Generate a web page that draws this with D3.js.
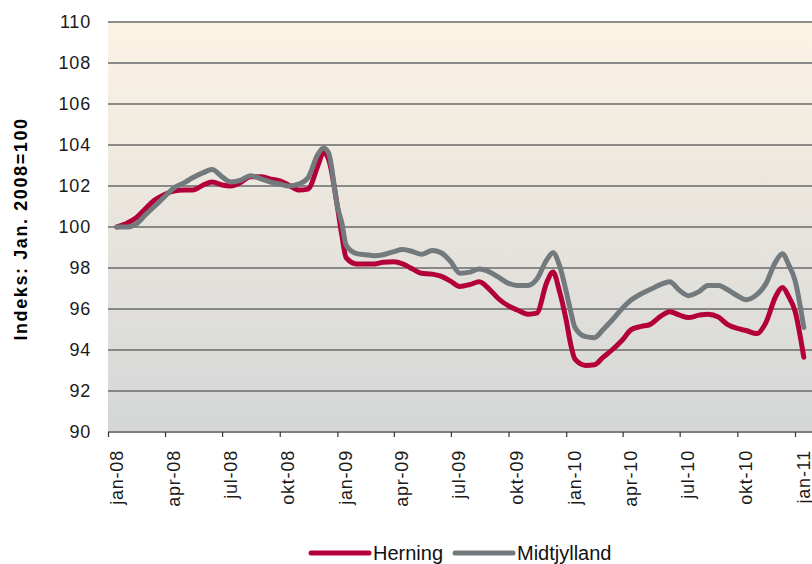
<!DOCTYPE html>
<html>
<head>
<meta charset="utf-8">
<script src="https://cdn.jsdelivr.net/npm/d3@7"></script>
<style>
    body { margin: 0; background: #ffffff; }
    svg { display: block; font-family: "Liberation Sans", Arial, sans-serif; }
</style>
</head>
<body>
<div id="chart"></div>
<script>
// Data (index, jan. 2008 = 100)
let dates = [
    "2008-01-15","2008-02-01","2008-02-15","2008-03-01","2008-03-15","2008-04-01","2008-04-15",
    "2008-05-01","2008-05-15","2008-06-01","2008-06-15","2008-07-01","2008-07-15","2008-08-01",
    "2008-08-15","2008-09-01","2008-09-15","2008-10-01","2008-10-15","2008-11-01","2008-11-15",
    "2008-12-01","2008-12-10","2008-12-18","2009-01-01","2009-01-08","2009-01-15","2009-02-01",
    "2009-02-15","2009-03-01","2009-03-15","2009-04-01","2009-04-15","2009-05-01","2009-05-15",
    "2009-06-01","2009-06-15","2009-07-01","2009-07-15","2009-08-01","2009-08-15","2009-09-01",
    "2009-09-15","2009-10-01","2009-10-15","2009-11-01","2009-11-15","2009-12-01","2009-12-11",
    "2009-12-21","2010-01-01","2010-01-08","2010-01-15","2010-02-01","2010-02-15","2010-03-01",
    "2010-03-15","2010-04-01","2010-04-15","2010-05-01","2010-05-15","2010-06-01","2010-06-15",
    "2010-07-01","2010-07-15","2010-08-01","2010-08-15","2010-09-01","2010-09-15","2010-10-01",
    "2010-10-15","2010-11-01","2010-11-15","2010-12-01","2010-12-12","2010-12-22","2011-01-01",
    "2011-01-15"
];
let herning = [
    100.0, 100.2, 100.45, 100.9, 101.3, 101.6, 101.75,
    101.8, 101.8, 102.05, 102.2, 102.05, 102.0, 102.2,
    102.45, 102.45, 102.35, 102.25, 102.05, 101.8, 101.85,
    103.0, 103.65, 103.3, 101.0, 99.6, 98.5, 98.2,
    98.2, 98.2, 98.28, 98.3, 98.2, 97.95, 97.74,
    97.7, 97.6, 97.35, 97.1, 97.2, 97.33, 96.95,
    96.5, 96.15, 95.95, 95.75, 95.8, 97.3, 97.8,
    96.9, 95.45, 94.3, 93.55, 93.25, 93.28, 93.65,
    94.0, 94.5, 95.0, 95.15, 95.25, 95.65, 95.87,
    95.7, 95.58, 95.7, 95.75, 95.6, 95.25, 95.05,
    94.95, 94.8, 95.3, 96.6, 97.05, 96.6, 95.9,
    93.65
];
let midtjylland = [
    100.0, 100.0, 100.15, 100.6, 101.0, 101.5, 101.9,
    102.15, 102.4, 102.65, 102.8, 102.45, 102.2, 102.3,
    102.5, 102.35, 102.2, 102.1, 102.0, 102.1, 102.4,
    103.55, 103.85, 103.6, 101.0, 100.2, 99.1, 98.7,
    98.65, 98.6, 98.65, 98.8, 98.9, 98.8, 98.67,
    98.85, 98.75, 98.3, 97.75, 97.8, 97.95, 97.8,
    97.55, 97.25, 97.15, 97.15, 97.45, 98.4, 98.75,
    98.15, 96.85, 95.9, 95.1, 94.65, 94.6, 95.0,
    95.45, 96.05, 96.45, 96.75, 96.95, 97.2, 97.33,
    96.9, 96.65, 96.85, 97.15, 97.15, 96.95, 96.65,
    96.45, 96.7, 97.2, 98.3, 98.7, 98.15, 97.4,
    95.1
];
let tickDates = ["2008-01-01","2008-04-01","2008-07-01","2008-10-01","2009-01-01","2009-04-01","2009-07-01",
    "2009-10-01","2010-01-01","2010-04-01","2010-07-01","2010-10-01","2011-01-01"];
let tickLabels = ["jan-08","apr-08","jul-08","okt-08","jan-09","apr-09","jul-09",
    "okt-09","jan-10","apr-10","jul-10","okt-10","jan-11"];
let yTicks = [90, 92, 94, 96, 98, 100, 102, 104, 106, 108, 110];
let seriesNames = ["Herning", "Midtjylland"];
let seriesColors = ["#b4003a", "#737a7e"];

let width = 812, height = 564;
let plot = {left: 108, right: 812, top: 22, bottom: 432};

let parse = d3.timeParse("%Y-%m-%d");

let svg = d3.select("#chart").append("svg")
    .attr("width", width)
    .attr("height", height);

let xScale = d3.scaleTime()
    .domain([parse("2008-01-01"), parse("2011-01-01")])
    .range([plot.left, 795]);

let yScale = d3.scaleLinear()
    .domain([90, 110])
    .range([plot.bottom, plot.top]);

//background gradient
let grad = svg.append("defs").append("linearGradient")
    .attr("id", "bg")
    .attr("x1", 0).attr("y1", 0).attr("x2", 0).attr("y2", 1);
grad.append("stop").attr("offset", "0%").attr("stop-color", "#fcf3e4");
grad.append("stop").attr("offset", "100%").attr("stop-color", "#d4d6d7");

svg.append("rect")
    .attr("x", plot.left)
    .attr("y", plot.top)
    .attr("width", plot.right - plot.left)
    .attr("height", plot.bottom - plot.top)
    .attr("fill", "url(#bg)");

//gridlines
svg.append("g")
    .selectAll("line")
    .data(yTicks.slice(1))
    .enter().append("line")
    .attr("x1", plot.left)
    .attr("x2", plot.right)
    .attr("y1", function(d){ return yScale(d); })
    .attr("y2", function(d){ return yScale(d); })
    .attr("stroke", "#6a6a6a")
    .attr("stroke-width", 1.3);

//y axis labels
let yAxis = svg.append("g")
    .attr("transform", "translate(" + plot.left + ",0)")
    .call(d3.axisLeft(yScale).tickValues(yTicks).tickSize(0).tickPadding(17));
yAxis.select(".domain").remove();
yAxis.selectAll("text")
    .attr("font-family", "Liberation Sans, Arial, sans-serif")
    .attr("font-size", 18)
    .attr("letter-spacing", "0.8px")
    .attr("fill", "#1a1a1a");

//x axis
let xAxis = svg.append("g")
    .attr("transform", "translate(0," + plot.bottom + ")")
    .call(d3.axisBottom(xScale)
        .tickValues(tickDates.map(parse))
        .tickSize(5)
        .tickFormat(function(d, i){ return tickLabels[i]; }));
xAxis.select(".domain")
    .attr("d", "M" + plot.left + ",0H" + plot.right)
    .attr("stroke", "#7f7f7f")
    .attr("stroke-width", 2);
xAxis.selectAll(".tick line")
    .attr("stroke", "#333")
    .attr("stroke-width", 1.2);
xAxis.selectAll("text")
    .attr("font-family", "Liberation Sans, Arial, sans-serif")
    .attr("font-size", 18)
    .attr("letter-spacing", "0.8px")
    .attr("fill", "#1a1a1a")
    .attr("text-anchor", "end")
    .attr("transform", "translate(14,18) rotate(-90)")
    .attr("x", 0)
    .attr("y", 0)
    .attr("dy", "0");

//y title
svg.append("text")
    .attr("transform", "translate(27,229) rotate(-90)")
    .attr("text-anchor", "middle")
    .attr("font-weight", "bold")
    .attr("font-size", 18)
    .attr("letter-spacing", "1.6px")
    .attr("fill", "#000")
    .text("Indeks: Jan. 2008=100");

//lines
let line = d3.line()
    .x(function(d){ return xScale(d[0]); })
    .y(function(d){ return yScale(d[1]); })
    .curve(d3.curveMonotoneX);

let series = [herning, midtjylland];
svg.append("g")
    .selectAll("path")
    .data(series)
    .enter().append("path")
    .attr("d", function(values){
        return line(values.map(function(v, i){ return [parse(dates[i]), v]; }));
    })
    .attr("fill", "none")
    .attr("stroke", function(d, i){ return seriesColors[i]; })
    .attr("stroke-width", 5)
    .attr("stroke-linejoin", "round")
    .attr("stroke-linecap", "round");

//legend
let legendX = [311, 455];
let legend = svg.append("g")
    .selectAll("g")
    .data(seriesNames)
    .enter().append("g")
    .attr("transform", function(d, i){ return "translate(" + legendX[i] + ",553)"; });
legend.append("line")
    .attr("x1", 0).attr("x2", 58)
    .attr("y1", 0).attr("y2", 0)
    .attr("stroke", function(d, i){ return seriesColors[i]; })
    .attr("stroke-width", 5)
    .attr("stroke-linecap", "round");
legend.append("text")
    .attr("x", 62)
    .attr("y", 7)
    .attr("font-size", 20)
    .attr("fill", "#111")
    .text(function(d){ return d; });
</script>
</body>
</html>
